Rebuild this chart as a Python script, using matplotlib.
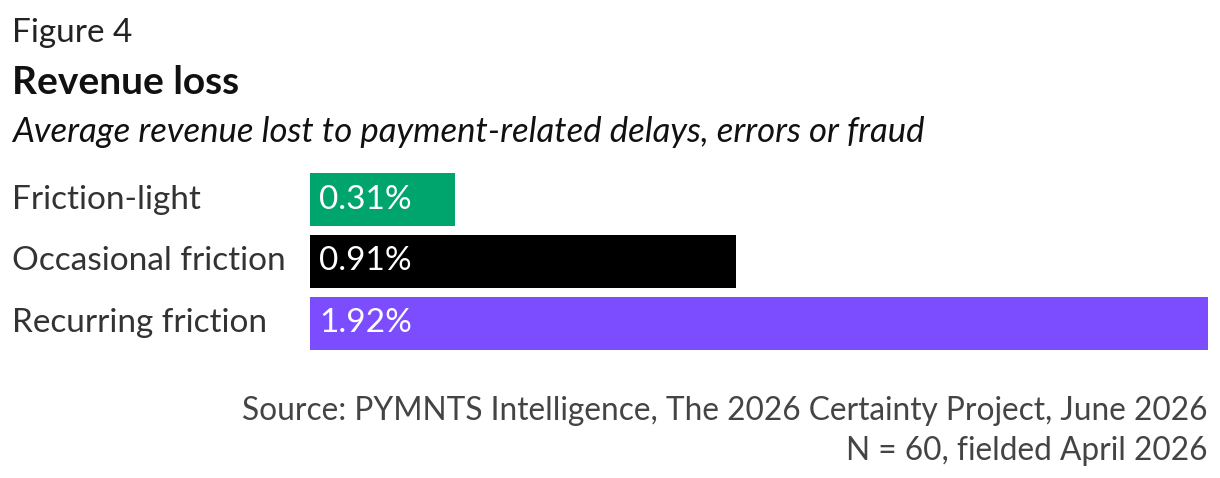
import matplotlib.pyplot as plt
from matplotlib.transforms import blended_transform_factory

categories = ["Friction-light", "Occasional friction", "Recurring friction"]
values = [0.31, 0.91, 1.92]
labels = ["0.31%", "0.91%", "1.92%"]
colors = ["#00A56E", "#000000", "#7C4DFF"]

plt.rcParams['font.family'] = ['Lato', 'DejaVu Sans']

W, H = 1220, 478
fig = plt.figure(figsize=(W / 100, H / 100), dpi=100)

fig.text(12 / W, 1 - 33 / H, "Figure 4", fontsize=24, color="#222222", va="center")
fig.text(12 / W, 1 - 82 / H, "Revenue loss", fontsize=28, fontweight="bold", color="#111111", va="center")
fig.text(12 / W, 1 - 132 / H, "Average revenue lost to payment-related delays, errors or fraud",
         fontsize=25, style="italic", color="#111111", va="center")

ax = fig.add_axes([310 / W, 1 - 350 / H, (1208 - 310) / W, 177 / H])
ys = range(len(values))
ax.barh(ys, values, height=0.855, color=colors)
ax.set_xlim(0, max(values))
ax.set_ylim(2.4275, -0.4275)
ax.axis("off")
trans = blended_transform_factory(fig.transFigure, ax.transData)
for y, v, lab, cat in zip(ys, values, labels, categories):
    ax.text(0.02, y, lab, color="white", fontsize=24, va="center")
    fig.text(12 / W, y, cat, fontsize=24, color="#333333", va="center", transform=trans)

fig.text(1208 / W, 1 - 411 / H, "Source: PYMNTS Intelligence, The 2026 Certainty Project, June 2026",
         fontsize=22.8, color="#444444", ha="right", va="center")
fig.text(1208 / W, 1 - 451 / H, "N = 60, fielded April 2026",
         fontsize=22.8, color="#444444", ha="right", va="center")

fig.savefig("out.png", dpi=100)
